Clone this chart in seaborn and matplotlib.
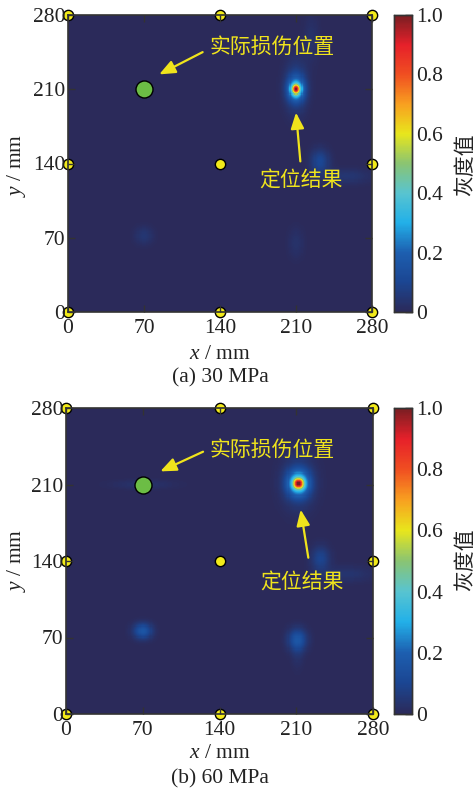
import numpy as np
import pandas as pd
import matplotlib
matplotlib.use("Agg")
import matplotlib.pyplot as plt
import seaborn as sns
from matplotlib.colors import LinearSegmentedColormap

sns.set_theme(style="white")
plt.rcParams['font.family'] = ['Liberation Serif', 'Noto Sans CJK SC', 'DejaVu Sans']
plt.rcParams['mathtext.fontset'] = 'custom'
plt.rcParams['mathtext.it'] = 'Liberation Serif:italic'
plt.rcParams['mathtext.rm'] = 'Liberation Serif'

# ---------------- data ----------------
tick_values = [0, 70, 140, 210, 280]
cbar_ticks = [0, 0.2, 0.4, 0.6, 0.8, 1.0]
cbar_ticklabels = ["0", "0.2", "0.4", "0.6", "0.8", "1.0"]

sensor_x = [0, 140, 280, 0, 140, 280, 0, 140, 280]
sensor_y = [0, 0, 0, 140, 140, 140, 280, 280, 280]
damage_x = [70]
damage_y = [210]

panel_titles = ["(a) 30 MPa", "(b) 60 MPa"]

# imaging-result hot spots: centre x, centre y, amplitude, spread x, spread y (mm)
a_blob_x = [210, 210, 210, 224, 232, 256, 70, 210]
a_blob_y = [210, 210, 213, 258, 142, 128, 72, 65]
a_blob_amp = [0.72, 0.33, 0.10, 0.035, 0.12, 0.05, 0.05, 0.035]
a_blob_sx = [2.5, 5.5, 7.0, 5.0, 6.0, 16.0, 6.0, 5.0]
a_blob_sy = [3.0, 8.0, 17.0, 15.0, 8.0, 5.0, 6.0, 10.0]

b_blob_x = [212, 212, 212, 232, 256, 70, 211, 70, 211]
b_blob_y = [211, 211, 212, 142, 128, 76, 68, 210, 55]
b_blob_amp = [0.68, 0.38, 0.11, 0.11, 0.045, 0.19, 0.18, 0.035, 0.03]
b_blob_sx = [3.0, 7.0, 10.0, 6.0, 16.0, 6.0, 6.0, 20.0, 4.0]
b_blob_sy = [3.0, 8.0, 16.0, 8.0, 5.0, 5.0, 7.0, 3.0, 10.0]

# annotation positions (mm)
arrow1_tail = [(124, 245), (125, 240)]
arrow1_head = [(84, 224), (86, 222)]
label1_pos = [(130, 250), (131, 242)]
arrow2_tail = [(214, 142), (221, 143)]
arrow2_head = [(210, 188), (214, 187)]
label2_pos = [(215, 124), (215, 120)]

# ---------------- colormap ----------------
cmap = LinearSegmentedColormap.from_list("grey_jet", [
    (0.00, "#2b2a5a"), (0.10, "#1b4692"), (0.20, "#1d5fb0"),
    (0.30, "#22b0e8"), (0.40, "#58c4d0"), (0.50, "#8ac472"),
    (0.60, "#e8e61c"), (0.70, "#f8a020"), (0.80, "#f04f21"),
    (0.90, "#e6202a"), (1.00, "#7a1e22")])


def build_field(bx, by, ba, bsx, bsy):
    c = np.arange(280) + 0.5
    X, Y = np.meshgrid(c, c)
    Z = np.zeros_like(X)
    for x0, y0, a, sx, sy in zip(bx, by, ba, bsx, bsy):
        Z += a * np.exp(-((X - x0) ** 2 / (2 * sx ** 2) + (Y - y0) ** 2 / (2 * sy ** 2)))
    Z = Z / Z.max()
    return pd.DataFrame(Z)


fields = [build_field(a_blob_x, a_blob_y, a_blob_amp, a_blob_sx, a_blob_sy),
          build_field(b_blob_x, b_blob_y, b_blob_amp, b_blob_sx, b_blob_sy)]

W, H = 476, 791
fig = plt.figure(figsize=(W / 100, H / 100), dpi=100)
fig.patch.set_facecolor("white")


def frac(l, t, w, h):
    return [l / W, 1 - (t + h) / H, w / W, h / H]


ax_rects = [frac(68, 15, 304, 297), frac(66, 408, 307, 306)]
cb_rects = [frac(394, 15, 18, 297), frac(394, 408, 18, 306)]
xlabel_y = [355, 754]
title_y = [378, 779]
ylabel_y = [165, 560]

yellow = "#f0e41c"
FS = 15.5

for i in range(2):
    ax = fig.add_axes(ax_rects[i])
    cax = fig.add_axes(cb_rects[i])
    sns.heatmap(fields[i], ax=ax, cmap=cmap, vmin=0, vmax=1, cbar=True, cbar_ax=cax,
                xticklabels=False, yticklabels=False, rasterized=True)
    ax.set_xlim(0, 280)
    ax.set_ylim(0, 280)
    ax.set_xticks(tick_values)
    ax.set_yticks(tick_values)
    ax.set_xticklabels([str(v) for v in tick_values])
    ax.set_yticklabels([str(v) for v in tick_values])
    ax.tick_params(direction='in', top=True, right=True, bottom=True, left=True,
                   length=5, width=1, color="#333333", labelsize=FS,
                   labelcolor="#222222")
    ax.tick_params(axis='x', pad=5)
    ax.tick_params(axis='y', pad=2)
    plt.setp(ax.get_yticklabels(), rotation=0)
    for s in ax.spines.values():
        s.set_visible(True)
        s.set_color("#333333")
        s.set_linewidth(1.2)
    ax.set_axisbelow(False)
    ax.set_xlabel("")
    ax.set_ylabel("")

    # sensors and damage
    ax.scatter(sensor_x, sensor_y, s=55, c="#f2ea1a", edgecolors="black",
               linewidths=1.0, clip_on=False, zorder=2)
    ax.scatter(damage_x, damage_y, s=150, c="#6cbd45", edgecolors="black",
               linewidths=1.0, clip_on=False, zorder=2)

    # annotations
    ax.annotate("", xy=arrow1_head[i], xytext=arrow1_tail[i],
                arrowprops=dict(arrowstyle='-|>,head_length=0.6,head_width=0.25',
                                color=yellow, lw=1.6,
                                mutation_scale=16, shrinkA=0, shrinkB=0))
    ax.annotate("", xy=arrow2_head[i], xytext=arrow2_tail[i],
                arrowprops=dict(arrowstyle='-|>,head_length=0.6,head_width=0.25',
                                color=yellow, lw=1.6,
                                mutation_scale=16, shrinkA=0, shrinkB=0))
    ax.text(*label1_pos[i], "实际损伤位置", color=yellow, fontsize=15,
            family=['Noto Sans CJK SC'], ha='left', va='center')
    ax.text(*label2_pos[i], "定位结果", color=yellow, fontsize=15,
            family=['Noto Sans CJK SC'], ha='center', va='center')

    # colorbar
    cax.set_yticks(cbar_ticks)
    cax.set_yticklabels(cbar_ticklabels)
    cax.tick_params(direction='in', length=5, width=1, color="#222222",
                    labelsize=FS, pad=3, right=True, left=False,
                    labelcolor="#222222")
    for s in cax.spines.values():
        s.set_visible(True)
        s.set_color("#333333")
        s.set_linewidth(1.0)

    # labels
    fig.text(220 / W, 1 - xlabel_y[i] / H, "$x$ / mm", fontsize=FS,
             ha='center', va='center', color="#222222")
    fig.text(16 / W, 1 - ylabel_y[i] / H, "$y$ / mm", fontsize=FS,
             ha='center', va='center', rotation=90, color="#222222")
    fig.text(220 / W, 1 - title_y[i] / H, panel_titles[i], fontsize=FS,
             ha='center', va='center', color="#222222")
    fig.text(465 / W, 1 - ylabel_y[i] / H, "灰度值", fontsize=15,
             family=['Noto Sans CJK SC'], ha='center', va='center',
             rotation=90, color="#222222")

fig.savefig("out.png", dpi=100)
